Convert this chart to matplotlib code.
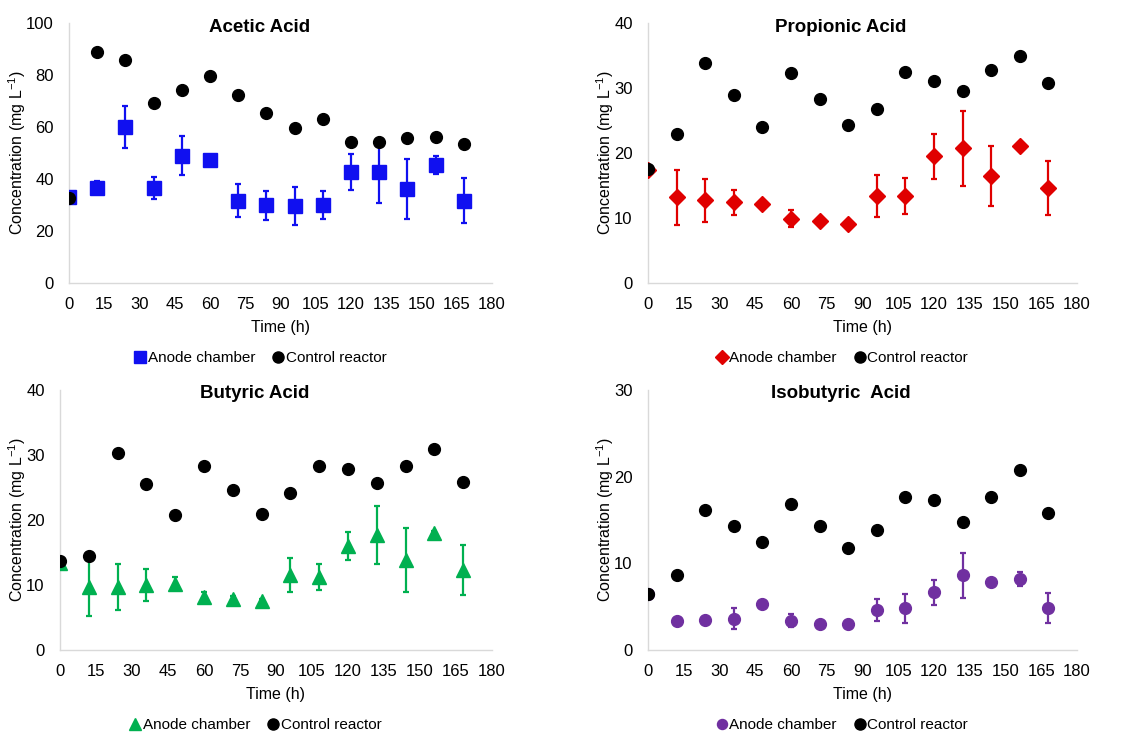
import matplotlib
matplotlib.use("Agg")
import matplotlib.pyplot as plt
from matplotlib.lines import Line2D

plt.rcParams['font.family'] = ['Liberation Sans', 'DejaVu Sans']
plt.rcParams['mathtext.fontset'] = 'custom'
plt.rcParams['mathtext.rm'] = 'Liberation Sans'
plt.rcParams['mathtext.it'] = 'Liberation Sans'
plt.rcParams['mathtext.default'] = 'regular'

time_h = [0, 12, 24, 36, 48, 60, 72, 84, 96, 108, 120, 132, 144, 156, 168]

acetic_anode = [33.1, 36.7, 60.0, 36.5, 49.0, 47.4, 31.7, 29.9, 29.6, 29.9, 42.7, 42.7, 36.3, 45.4, 31.7]
acetic_anode_err = [0.5, 2.5, 8.2, 4.2, 7.5, 0.5, 6.3, 5.6, 7.3, 5.4, 7.0, 12.0, 11.5, 3.3, 8.7]
acetic_control = [32.8, 88.7, 85.8, 69.4, 74.4, 79.6, 72.3, 65.4, 59.5, 63.1, 54.4, 54.2, 55.8, 56.0, 53.3]

propionic_anode = [17.4, 13.2, 12.7, 12.4, 12.2, 9.9, 9.5, 9.1, 13.4, 13.4, 19.5, 20.7, 16.5, 21.1, 14.6]
propionic_anode_err = [0.2, 4.2, 3.3, 1.9, 0.3, 1.3, 0.4, 0.3, 3.2, 2.8, 3.5, 5.7, 4.6, 0.3, 4.2]
propionic_control = [17.5, 22.9, 33.8, 29.0, 24.0, 32.3, 28.3, 24.3, 26.8, 32.4, 31.1, 29.6, 32.8, 35.0, 30.7]

butyric_anode = [13.4, 9.7, 9.7, 10.0, 10.2, 8.2, 7.9, 7.6, 11.5, 11.3, 16.0, 17.7, 13.9, 18.0, 12.3]
butyric_anode_err = [0.2, 4.4, 3.6, 2.4, 1.0, 0.8, 0.4, 0.3, 2.6, 2.0, 2.2, 4.5, 4.9, 0.3, 3.9]
butyric_control = [13.7, 14.5, 30.3, 25.5, 20.7, 28.3, 24.6, 21.0, 24.2, 28.3, 27.8, 25.7, 28.3, 31.0, 25.9]

isobutyric_anode = [6.5, 3.4, 3.5, 3.6, 5.3, 3.4, 3.0, 3.0, 4.6, 4.8, 6.65, 8.6, 7.9, 8.2, 4.85]
isobutyric_anode_err = [0.1, 0.3, 0.3, 1.2, 0.4, 0.7, 0.4, 0.2, 1.25, 1.65, 1.45, 2.6, 0.2, 0.85, 1.7]
isobutyric_control = [6.5, 8.7, 16.2, 14.3, 12.5, 16.8, 14.3, 11.8, 13.8, 17.6, 17.3, 14.8, 17.7, 20.8, 15.8]

x_ticks = list(range(0, 181, 15))

panels = [
    dict(title="Acetic Acid", anode=acetic_anode, err=acetic_anode_err, ctrl=acetic_control,
         ymax=100, ystep=20, color="#1010F0", marker="s", ms=9.5,
         rect=(69, 23, 492, 283), ylab_px=17),
    dict(title="Propionic Acid", anode=propionic_anode, err=propionic_anode_err, ctrl=propionic_control,
         ymax=40, ystep=10, color="#E00000", marker="D", ms=8,
         rect=(648, 23, 1077, 283), ylab_px=605),
    dict(title="Butyric Acid", anode=butyric_anode, err=butyric_anode_err, ctrl=butyric_control,
         ymax=40, ystep=10, color="#00B050", marker="^", ms=10,
         rect=(60, 390, 492, 650), ylab_px=17),
    dict(title="Isobutyric  Acid", anode=isobutyric_anode, err=isobutyric_anode_err, ctrl=isobutyric_control,
         ymax=30, ystep=10, color="#7030A0", marker="o", ms=8.5,
         rect=(648, 390, 1077, 650), ylab_px=605),
]

W, H = 1143, 734
fig = plt.figure(figsize=(W / 100, H / 100), dpi=100)

for p in panels:
    x0, y0, x1, y1 = p["rect"]
    ax = fig.add_axes([x0 / W, (H - y1) / H, (x1 - x0) / W, (y1 - y0) / H])
    ax.errorbar(time_h, p["anode"], yerr=p["err"], fmt=p["marker"], color=p["color"],
                ms=p["ms"], elinewidth=1.6, capsize=2.5, capthick=1.6, zorder=3,
                label="Anode chamber")
    ax.plot(time_h, p["ctrl"], "o", color="black", ms=8.5, zorder=4, label="Control reactor")
    ax.set_xlim(0, 180)
    ax.set_ylim(0, p["ymax"])
    ax.set_xticks(x_ticks)
    ax.set_yticks(list(range(0, p["ymax"] + 1, p["ystep"])))
    ax.tick_params(length=0, labelsize=12, colors="black")
    ax.tick_params(axis="x", pad=10)
    ax.tick_params(axis="y", pad=11)
    for s in ["top", "right"]:
        ax.spines[s].set_visible(False)
    for s in ["left", "bottom"]:
        ax.spines[s].set_color("#D9D9D9")
        ax.spines[s].set_linewidth(1.0)
    ax.set_xlabel("Time (h)", fontsize=11.5, labelpad=6)
    fig.text(p["ylab_px"] / W, 1 - ((y0 + y1) / 2) / H, "Concentration (mg L$^{-1}$)",
             rotation=90, ha="center", va="center", fontsize=11.5)
    ax.text(0.45, 1 - 4 / 260, p["title"], transform=ax.transAxes, ha="center", va="center",
            fontsize=13.5, fontweight="bold")
    handles = [
        Line2D([], [], marker=p["marker"], color=p["color"], ls="none", ms=p["ms"] * 0.85),
        Line2D([], [], marker="o", color="black", ls="none", ms=8),
    ]
    ax.legend(handles, ["Anode chamber", "Control reactor"], loc="center",
              bbox_to_anchor=(0.45, -0.288), ncol=2, frameon=False, fontsize=11,
              handletextpad=0.0, columnspacing=1.0, handlelength=1.0)

fig.savefig("out.png", dpi=100)
